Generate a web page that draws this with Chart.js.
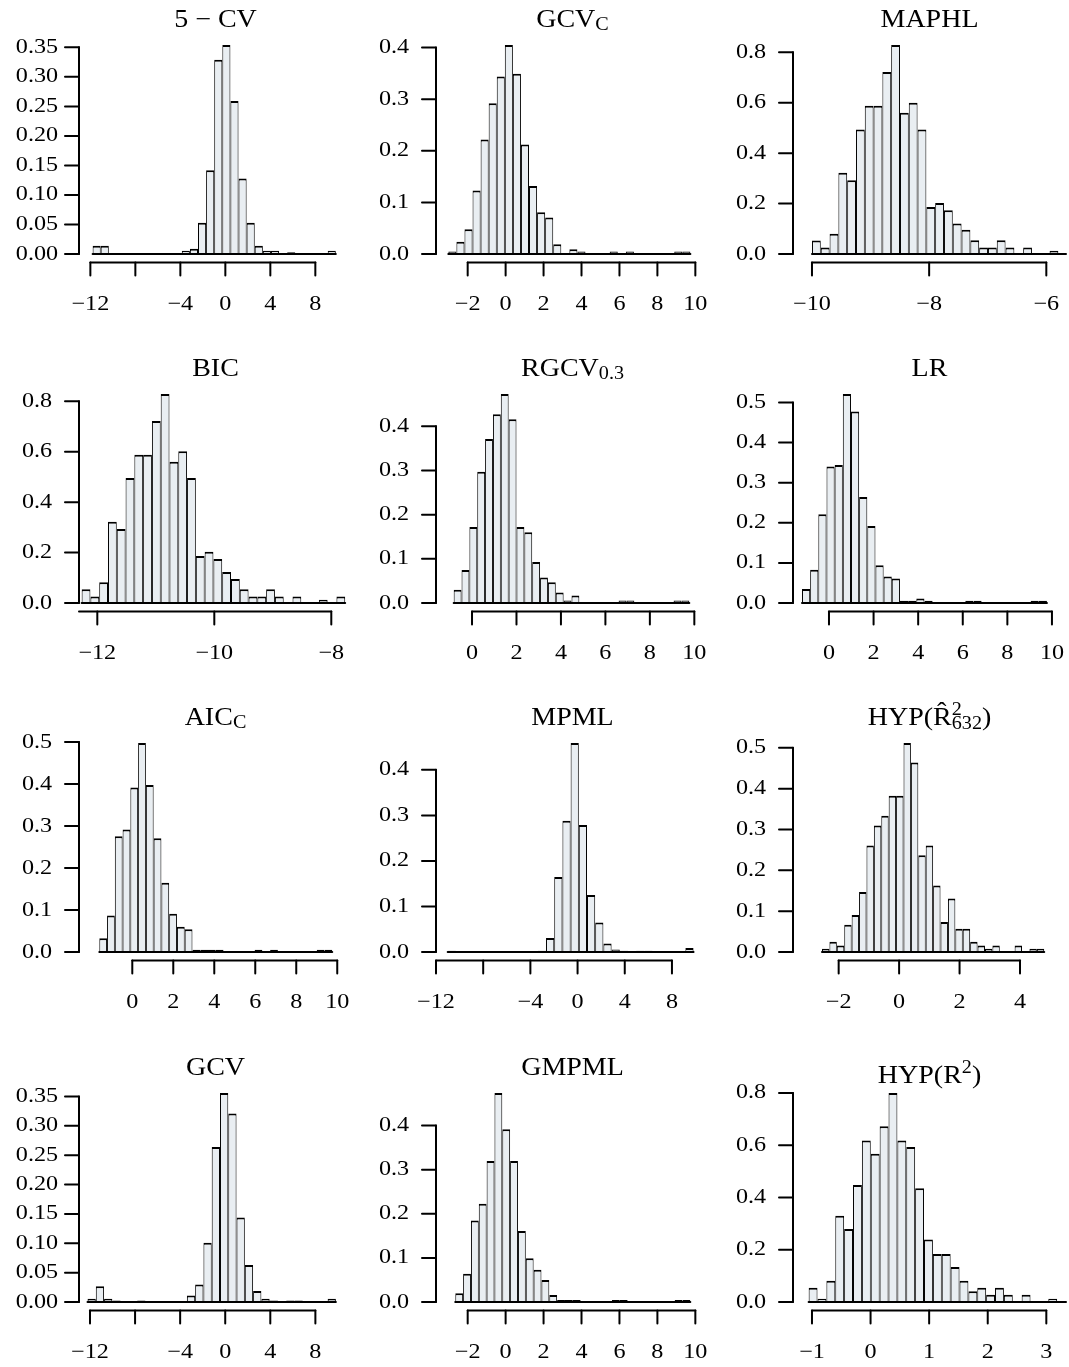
<!DOCTYPE html>
<html>
<head>
<meta charset="utf-8">
<script src="https://cdn.jsdelivr.net/npm/chart.js@4.4.1/dist/chart.umd.min.js"></script>
<style>
  html, body { margin: 0; padding: 0; background: #fff; overflow: hidden; }
  #page { position: relative; width: 1069px; height: 1367px; overflow: hidden; }
  canvas { position: absolute; }
  .title { position: absolute; width: 273px; text-align: center; white-space: nowrap;
           font: 25px/30px "Liberation Serif", serif; color: #000;
           transform: scaleX(1.12); transform-origin: 50% 50%; }
  .sub { font-size: 18px; vertical-align: -3px; }
  .sup { font-size: 18px; vertical-align: 10px; }
  .stk { display: inline-block; font-size: 18px; line-height: 14px; vertical-align: -4px; text-align: left; }
  .stk span { display: block; }
</style>
</head>
<body>
<div id="page"></div>
<script>
// densities per bin, left to right
const dens5CV = [0.014, 0.014, 0, 0, 0, 0, 0, 0, 0, 0, 0, 0.0057, 0.009, 0.053, 0.142, 0.329, 0.354, 0.259, 0.128, 0.053, 0.014, 0.0057, 0.0057, 0, 0.003, 0, 0, 0, 0, 0.0057];
const densGCVc = [0.0047, 0.024, 0.048, 0.123, 0.222, 0.292, 0.344, 0.405, 0.349, 0.212, 0.132, 0.081, 0.071, 0.019, 0, 0.0094, 0.0047, 0, 0, 0, 0.0047, 0, 0.0047, 0, 0, 0, 0, 0, 0.0047, 0.0047];
const densMAPHL = [0.054, 0.026, 0.080, 0.322, 0.293, 0.494, 0.588, 0.588, 0.722, 0.829, 0.560, 0.600, 0.494, 0.187, 0.202, 0.174, 0.121, 0.096, 0.055, 0.026, 0.026, 0.055, 0.026, 0, 0.026, 0, 0, 0.013, 0];
const densBIC = [0.055, 0.026, 0.082, 0.322, 0.294, 0.496, 0.588, 0.588, 0.722, 0.829, 0.560, 0.602, 0.496, 0.187, 0.203, 0.175, 0.123, 0.095, 0.055, 0.026, 0.026, 0.055, 0.026, 0, 0.026, 0, 0, 0.013, 0, 0.026];
const densRGCV = [0.030, 0.075, 0.172, 0.297, 0.371, 0.427, 0.473, 0.416, 0.172, 0.160, 0.093, 0.058, 0.047, 0.024, 0.0057, 0.017, 0, 0, 0, 0, 0, 0.0057, 0.0057, 0, 0, 0, 0, 0, 0.0057, 0.0057];
const densLR = [0.035, 0.083, 0.221, 0.340, 0.344, 0.521, 0.477, 0.264, 0.192, 0.094, 0.066, 0.061, 0.0055, 0.0055, 0.011, 0.0055, 0, 0, 0, 0, 0.0055, 0.0055, 0, 0, 0, 0, 0, 0, 0.0055, 0.0055];
const densAICc = [0.033, 0.087, 0.276, 0.292, 0.392, 0.498, 0.398, 0.271, 0.165, 0.091, 0.060, 0.054, 0.0053, 0.0053, 0.0053, 0.0053, 0, 0, 0, 0, 0.0053, 0, 0.0053, 0, 0, 0, 0, 0, 0.0053, 0.0053];
const densMPML = [0.0029, 0, 0, 0, 0, 0, 0, 0, 0, 0, 0, 0.0029, 0.031, 0.165, 0.288, 0.459, 0.279, 0.125, 0.065, 0.019, 0.0058, 0.0029, 0, 0.0029, 0.0029, 0, 0, 0, 0, 0.0086];
const densHYP632 = [0.008, 0.025, 0.016, 0.067, 0.091, 0.147, 0.261, 0.310, 0.334, 0.383, 0.383, 0.512, 0.464, 0.237, 0.261, 0.163, 0.0735, 0.131, 0.057, 0.057, 0.025, 0.016, 0.008, 0.016, 0, 0, 0.016, 0, 0.008, 0.008];
const densGCV = [0.0054, 0.027, 0.0054, 0.0027, 0, 0, 0.0027, 0, 0, 0, 0, 0, 0.011, 0.030, 0.101, 0.264, 0.356, 0.321, 0.144, 0.063, 0.019, 0.0054, 0.0027, 0, 0.0027, 0.0027, 0, 0, 0, 0.0054];
const densGMPML = [0.020, 0.064, 0.185, 0.223, 0.320, 0.474, 0.392, 0.320, 0.161, 0.099, 0.073, 0.050, 0.016, 0.0048, 0.0048, 0.0048, 0, 0, 0, 0, 0.0048, 0.0048, 0, 0, 0, 0, 0, 0, 0.0048, 0.0048];
const densHYP = [0.055, 0.013, 0.081, 0.330, 0.279, 0.448, 0.618, 0.567, 0.673, 0.800, 0.618, 0.593, 0.435, 0.239, 0.184, 0.184, 0.134, 0.081, 0.041, 0.055, 0.028, 0.055, 0.028, 0, 0.028, 0, 0, 0.013, 0];

// first break and bin width of each histogram, panel order
const binStart = [-11.80, -3.02, -10.0, -12.268, -0.825, -1.211, -1.610, -11.01, -2.551, -12.22, -2.654, -1.057];
const binWidth = [0.7207, 0.4253, 0.1502, 0.1502, 0.3533, 0.3662, 0.3789, 0.6947, 0.2451, 0.7347, 0.413, 0.1515];

// tick labels
const yTicks035 = ["0.00", "0.05", "0.10", "0.15", "0.20", "0.25", "0.30", "0.35"];
const yTicks04 = ["0.0", "0.1", "0.2", "0.3", "0.4"];
const yTicks05 = ["0.0", "0.1", "0.2", "0.3", "0.4", "0.5"];
const yTicks08 = ["0.0", "0.2", "0.4", "0.6", "0.8"];

const xTicks12 = [-12, -8, -4, 0, 4, 8];
const xLabels12 = ["\u221212", "", "\u22124", "0", "4", "8"];
const xTicks2to10 = [-2, 0, 2, 4, 6, 8, 10];
const xLabels2to10 = ["\u22122", "0", "2", "4", "6", "8", "10"];
const xTicks0to10 = [0, 2, 4, 6, 8, 10];
const xLabels0to10 = ["0", "2", "4", "6", "8", "10"];
const xTicksMaphl = [-10, -8, -6];
const xLabelsMaphl = ["\u221210", "\u22128", "\u22126"];
const xTicksBic = [-14, -12, -10, -8]; // -14 sits left of the plot, it only stretches the axis line
const xLabelsBic = ["", "\u221212", "\u221210", "\u22128"];
const xTicksHyp632 = [-2, 0, 2, 4];
const xLabelsHyp632 = ["\u22122", "0", "2", "4"];
const xTicksHyp = [-1, 0, 1, 2, 3];
const xLabelsHyp = ["\u22121", "0", "1", "2", "3"];

const titles = [
  "5 \u2212 CV", 'GCV<span class="sub">C</span>', "MAPHL",
  "BIC", 'RGCV<span class="sub">0.3</span>', "LR",
  'AIC<span class="sub">C</span>', "MPML", 'HYP(R&#770;<span class="stk"><span>2</span><span>632</span></span>)',
  "GCV", "GMPML", 'HYP(R<span class="sup">2</span>)'
];

const panels = [
  { dens: dens5CV, yLabels: yTicks035, xTicks: xTicks12, xLabels: xLabels12, xRange: [-13.01, 11.26] },
  { dens: densGCVc, yLabels: yTicks04, xTicks: xTicks2to10, xLabels: xLabels2to10, xRange: [-3.67, 10.72] },
  { dens: densMAPHL, yLabels: yTicks08, xTicks: xTicksMaphl, xLabels: xLabelsMaphl, xRange: [-10.324, -5.664] },
  { dens: densBIC, yLabels: yTicks08, xTicks: xTicksBic, xLabels: xLabelsBic, xRange: [-12.313, -7.646] },
  { dens: densRGCV, yLabels: yTicks04, xTicks: xTicks0to10, xLabels: xLabels0to10, xRange: [-1.62, 10.66] },
  { dens: densLR, yLabels: yTicks05, xTicks: xTicks0to10, xLabels: xLabels0to10, xRange: [-1.614, 10.63] },
  { dens: densAICc, yLabels: yTicks05, xTicks: xTicks0to10, xLabels: xLabels0to10, xRange: [-2.60, 10.72] },
  { dens: densMPML, yLabels: yTicks04, xTicks: xTicks12, xLabels: xLabels12, xRange: [-12.0, 11.14] },
  { dens: densHYP632, yLabels: yTicks05, xTicks: xTicksHyp632, xLabels: xLabelsHyp632, xRange: [-3.511, 5.522] },
  { dens: densGCV, yLabels: yTicks035, xTicks: xTicks12, xLabels: xLabels12, xRange: [-12.976, 11.25] },
  { dens: densGMPML, yLabels: yTicks04, xTicks: xTicks2to10, xLabels: xLabels2to10, xRange: [-3.67, 10.72] },
  { dens: densHYP, yLabels: yTicks08, xTicks: xTicksHyp, xLabels: xLabelsHyp, xRange: [-1.324, 3.336] }
];

// grid geometry
const colLeft = [0, 356, 712], colW = [356, 356, 357], axisLeft = [79, 436, 793];
const rowTop = [0, 349, 698, 1048], panelH = 349;
const plotW = 273, plotTop = 36.6, plotBottom = 262.4;
const tickFont = '21px "Liberation Serif"', tickStretch = 1.15;

// R style axes: detached lines that run from first to last tick
function rAxes(p) {
  return {
    id: "rAxes",
    afterDatasetsDraw(chart) {
      const { ctx, chartArea: a, scales: { x, y } } = chart;
      const seg = (x1, y1, x2, y2) => { ctx.beginPath(); ctx.moveTo(x1, y1); ctx.lineTo(x2, y2); ctx.stroke(); };
      const txt = (s, tx, ty) => {
        ctx.save();
        ctx.translate(tx, ty);
        ctx.scale(tickStretch, 1);
        ctx.fillText(s, 0, 0);
        ctx.restore();
      };
      ctx.save();
      ctx.strokeStyle = "#000";
      ctx.fillStyle = "#000";
      ctx.lineWidth = 2;
      ctx.lineCap = "round";

      // flat line under every bin, empty bins included
      const y0 = y.getPixelForValue(0);
      seg(Math.max(a.left, x.getPixelForValue(p.lo)), y0,
          Math.min(a.right, x.getPixelForValue(p.lo + p.dens.length * p.w)), y0);

      ctx.font = tickFont;
      ctx.textAlign = "center";
      ctx.textBaseline = "middle";

      const yv = p.yLabels.map(Number);
      seg(a.left, y.getPixelForValue(yv[0]), a.left, y.getPixelForValue(yv[yv.length - 1]));
      yv.forEach((v, i) => {
        const py = y.getPixelForValue(v);
        seg(a.left - 14, py, a.left, py);
        txt(p.yLabels[i], a.left - 42, py);
      });

      const xb = a.bottom;
      const px = p.xTicks.map(v => x.getPixelForValue(v));
      seg(Math.max(a.left, Math.min(...px)), xb, Math.min(a.right, Math.max(...px)), xb);
      px.forEach((q, i) => {
        if (q < a.left - 0.5 || q > a.right + 0.5) return;
        seg(q, xb, q, xb + 13);
        txt(p.xLabels[i], q, xb + 42.5);
      });
      ctx.restore();
    }
  };
}

const page = document.getElementById("page");

panels.forEach((p, k) => {
  const r = Math.floor(k / 3), c = k % 3;
  p.lo = binStart[k];
  p.w = binWidth[k];

  const cv = document.createElement("canvas");
  cv.width = colW[c];
  cv.height = panelH;
  cv.style.left = colLeft[c] + "px";
  cv.style.top = rowTop[r] + "px";
  page.appendChild(cv);

  const t = document.createElement("div");
  t.className = "title";
  t.innerHTML = titles[k];
  t.style.left = axisLeft[c] + "px";
  t.style.top = (rowTop[r] + 4) + "px";
  page.appendChild(t);

  const padL = axisLeft[c] - colLeft[c];
  const ymax = Math.max(...p.dens);

  new Chart(cv, {
    type: "bar",
    data: {
      datasets: [{
        data: p.dens.map((d, i) => ({ x: p.lo + (i + 0.5) * p.w, y: d })),
        backgroundColor: "#e9eef2",
        borderColor: "#000",
        borderWidth: { top: 2, left: 1, right: 1, bottom: 0 },
        borderSkipped: "start",
        barThickness: "flex",
        barPercentage: 1,
        categoryPercentage: 1,
        inflateAmount: 0
      }]
    },
    options: {
      responsive: false,
      animation: false,
      events: [],
      layout: { padding: { left: padL, right: colW[c] - padL - plotW, top: plotTop, bottom: panelH - plotBottom } },
      plugins: { legend: { display: false }, tooltip: { enabled: false } },
      scales: {
        x: { type: "linear", min: p.xRange[0], max: p.xRange[1], offset: false, display: false },
        y: { min: -0.04 * ymax, max: 1.04 * ymax, display: false }
      }
    },
    plugins: [rAxes(p)]
  });
});
</script>
</body>
</html>
